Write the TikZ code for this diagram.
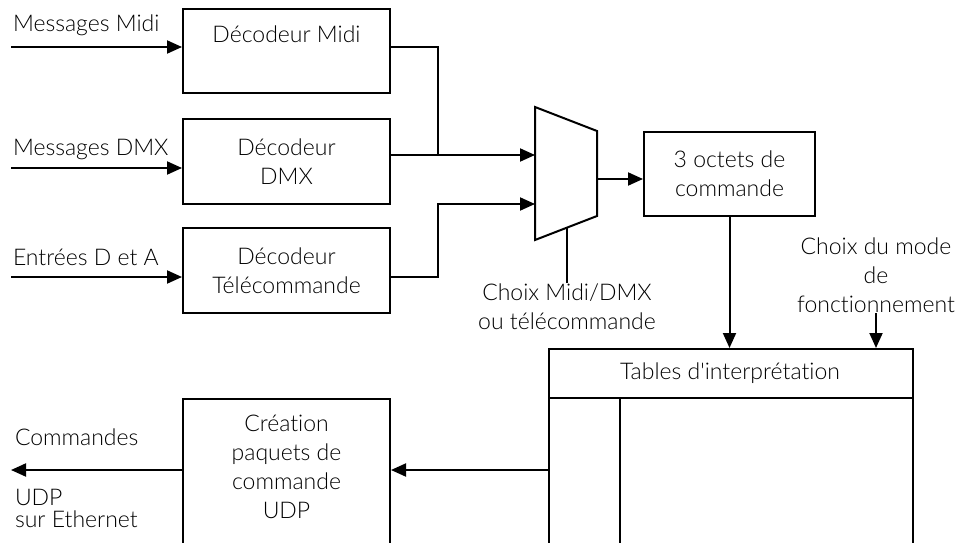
\documentclass[tikz,border=0pt]{standalone}
\usepackage{fontspec}
\IfFontExistsTF{Lato Light}
  {\setmainfont{Lato Light}[Ligatures={TeXOff,CommonOff}]}
  {\setmainfont{Lato}[Ligatures={TeXOff,CommonOff}]}
\usetikzlibrary{arrows.meta,calc}
\begin{document}
\begin{tikzpicture}[x=1pt,y=-1pt,
  font=\fontsize{23}{29}\selectfont,
  line width=2pt,
  box/.style={draw, line width=2pt, minimum width=207pt, align=center, inner sep=0pt},
  txt/.style={align=center, inner sep=0pt},
  lbl/.style={anchor=base west, inner sep=0pt},
  arr/.style={-{Triangle[length=15pt,width=13pt]}, line width=2pt}]
\useasboundingbox (0,0) rectangle (966,543);

% decoders
\node[box, minimum height=84pt] (midi) at (286.5,51) {};
\node[txt, anchor=base] (midit) at (286.5,43) {Décodeur Midi};
\node[box, minimum height=85pt] (dmx) at (286.5,161.5) {Décodeur\\DMX};
\node[box, minimum height=85pt] (tele) at (286.5,270.5) {Décodeur\\Télécommande};

% inputs
\node[lbl] (lmidi) at (12,32) {Messages Midi};
\node[lbl] (ldmx) at (12,155) {Messages DMX};
\node[lbl] (ltele) at (12,265) {Entrées D et A};
\coordinate (imidi) at (11,47);
\coordinate (idmx) at (11,168);
\coordinate (itele) at (11,277);
\draw[arr] (imidi) -- (imidi -| midi.west);
\draw[arr] (idmx) -- (idmx -| dmx.west);
\draw[arr] (itele) -- (itele -| tele.west);

% multiplexer
\coordinate (mtl) at (535,107);
\coordinate (mtr) at (597,131);
\coordinate (mbr) at (597,216);
\coordinate (mbl) at (535,240);
\draw[line join=miter] (mtl) -- (mtr) -- (mbr) -- (mbl) -- cycle;
\coordinate (min1) at (535,155);
\coordinate (min2) at (535,204);
\coordinate (mout) at (597,179);
\coordinate (msel) at ($(mbl)!0.516!(mbr)$);
\coordinate (j1) at (438,155);
\coordinate (j2) at (438,204);

\draw (midi.east |- imidi) -| (j1);
\draw[arr] (dmx.east |- min1) -- (min1);
\draw[arr] (tele.east |- itele) -| (j2) -- (min2);

\node[txt] (lsel) at (567,307) {Choix Midi/DMX\\ou télécommande};
\draw (msel) -- (msel |- lsel.north);

% command bytes
\node[box, minimum width=171pt, minimum height=84pt] (oct) at (729.5,174) {3 octets de\\commande};
\draw[arr] (mout) -- (mout -| oct.west);

% interpretation tables
\node[draw, line width=2pt, minimum width=364pt, minimum height=212pt, anchor=north west, inner sep=0pt] (tab) at (548,348) {};
\node[txt] (thead) at (730,373) {Tables d'interprétation};
\coordinate (hl) at (548,398);
\coordinate (hr) at (912,398);
\draw (hl) -- (hr);
\coordinate (dv) at (620,398);
\draw (dv) -- (620,560);
\draw[arr] (oct.south) -- (oct.south |- tab.north);

\node[txt] (lmode) at (876,275) {Choix du mode\\de\\fonctionnement};
\coordinate (mode) at (876,313);
\draw[arr] (mode) -- (mode |- tab.north);

% UDP packet builder
\node[box, minimum height=162pt, anchor=north] (crea) at (286.5,398) {};
\node[txt] (creatxt) at (286.5,467) {Création\\paquets de\\commande\\UDP};
\coordinate (tout) at (548,470);
\draw[arr] (tout) -- (tout -| crea.east);
\coordinate (out) at (11,470);
\draw[arr] (out -| crea.west) -- (out);

\node[lbl] (lcmd) at (14,445) {Commandes};
\node[lbl] (ludp) at (14,505) {UDP};
\node[lbl] (leth) at (14,527) {sur Ethernet};
\end{tikzpicture}
\end{document}
